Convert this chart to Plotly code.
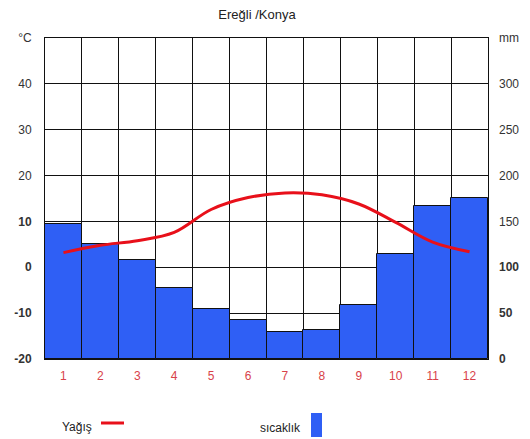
import plotly.graph_objects as go

months = [1, 2, 3, 4, 5, 6, 7, 8, 9, 10, 11, 12]
month_labels = ["1", "2", "3", "4", "5", "6", "7", "8", "9", "10", "11", "12"]
# blue bars (sıcaklık), read on left °C axis, bars start at -20
sicaklik = [9.5, 5.1, 1.6, -4.6, -9.1, -11.6, -14.2, -13.7, -8.3, 3.0, 13.4, 15.1]
# red line (Yağış), read on right mm axis
yagis = [116, 124, 129, 138, 163, 176, 181, 179, 169, 149, 127.5, 117]

left_vals = [-20, -10, 0, 10, 20, 30, 40, 50]
left_text = ["<b>-20</b>", "<b>-10</b>", "<b>0</b>", "<b>10</b>", "20", "30", "40", "°C"]
right_vals = [0, 50, 100, 150, 200, 250, 300, 350]
right_text = ["<b>0</b>", "<b>50</b>", "<b>100</b>", "150", "200", "250", "300", "mm"]

W, H = 530, 439
L, R, T, B = 45, 488, 38, 359


def px(x):
    return (x - L) / (R - L)


def py(y):
    return (B - y) / (B - T)


fig = go.Figure()
fig.add_trace(go.Bar(
    x=months, y=[v + 20 for v in sicaklik], base=-20,
    marker=dict(color="#2f5ff5", line=dict(color="#111111", width=1)),
    yaxis="y", showlegend=False, hoverinfo="skip",
))
fig.add_trace(go.Scatter(
    x=months, y=yagis, mode="lines", yaxis="y2",
    line=dict(color="#e8101a", width=3, shape="spline", smoothing=1.0),
    showlegend=False, hoverinfo="skip",
))

font = "Liberation Sans, Arial, sans-serif"
fig.update_layout(
    width=W, height=H,
    margin=dict(l=L, r=W - R, t=T, b=H - B, pad=0, autoexpand=False),
    paper_bgcolor="white", plot_bgcolor="white",
    bargap=0,
    font=dict(family=font, size=12, color="#333333"),
    title=dict(text="Ereğli /Konya", x=257 / W, xanchor="center", y=1 - 14 / H,
               yanchor="middle", font=dict(size=13, color="#222222", family=font)),
    xaxis=dict(
        range=[0.5, 12.5], tickvals=months, ticktext=month_labels,
        showgrid=False, zeroline=False, ticks="",
        tickfont=dict(color="#d8424a", size=12),
        showline=True, linecolor="#111111", linewidth=1, mirror=True,
        minor=dict(tickvals=[m + 0.5 for m in months[:-1]], showgrid=True,
                   gridcolor="#111111", gridwidth=1, ticks=""),
        ticklabelstandoff=6,
    ),
    yaxis=dict(
        range=[-20, 50], tickvals=left_vals, ticktext=left_text,
        showgrid=True, gridcolor="#111111", gridwidth=1, zeroline=False,
        ticks="", ticklabelstandoff=10,
        showline=True, linecolor="#111111", linewidth=1, mirror=True,
        tickfont=dict(color="#333333", size=12),
    ),
    yaxis2=dict(
        range=[0, 350], tickvals=right_vals, ticktext=right_text,
        overlaying="y", side="right", showgrid=False, zeroline=False,
        ticks="", ticklabelstandoff=10,
        tickfont=dict(color="#333333", size=12),
    ),
)

# custom legend below the chart
fig.add_annotation(x=px(94), y=py(427), xref="paper", yref="paper",
                   text="Yağış", showarrow=False, xanchor="right", yanchor="middle",
                   font=dict(size=12, color="#222222", family=font))
fig.add_shape(type="line", xref="paper", yref="paper",
              x0=px(101), x1=px(124), y0=py(423), y1=py(423),
              line=dict(color="#e8101a", width=3))
fig.add_annotation(x=px(303), y=py(428), xref="paper", yref="paper",
                   text="sıcaklık", showarrow=False, xanchor="right", yanchor="middle",
                   font=dict(size=12, color="#222222", family=font))
fig.add_shape(type="rect", xref="paper", yref="paper",
              x0=px(311), x1=px(322), y0=py(437), y1=py(413),
              fillcolor="#2f5ff5", line=dict(width=0))

fig.write_html("out.html", config={"displayModeBar": False},
               post_script="document.body.style.margin='0';document.body.style.padding='0';")
